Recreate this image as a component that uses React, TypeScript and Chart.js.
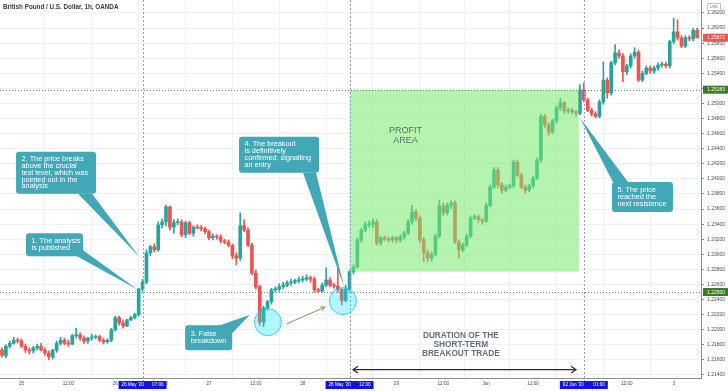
import React, { useEffect, useRef } from 'react';
import { Chart, registerables } from 'chart.js';
Chart.register(...registerables);

const FONT = '"Liberation Sans", Arial, sans-serif';
const UP = '#26a69a';
const DOWN = '#ef5350';

const opens = [
  1.2173, 1.2166, 1.2178, 1.2182, 1.2186, 1.2185, 1.2178, 1.2173, 1.2172, 1.2176,
  1.2178, 1.2173, 1.2169, 1.2164, 1.2173, 1.2182, 1.2186, 1.2182, 1.2181, 1.2192,
  1.2193, 1.2189, 1.2185, 1.2189, 1.2190, 1.2191, 1.2186, 1.2184, 1.2186, 1.2200,
  1.2216, 1.2209, 1.2205, 1.2213, 1.2216, 1.2220, 1.2254, 1.2263, 1.2302, 1.2310,
  1.2306, 1.2339, 1.2343, 1.2363, 1.2336, 1.2342, 1.2343, 1.2326, 1.2342, 1.2328,
  1.2336, 1.2335, 1.2334, 1.2330, 1.2322, 1.2324, 1.2323, 1.2318, 1.2316, 1.2312,
  1.2298, 1.2295, 1.2338, 1.2332, 1.2312, 1.2275, 1.2257, 1.2210, 1.2229, 1.2237,
  1.2253, 1.2254, 1.2257, 1.2259, 1.2262, 1.2263, 1.2265, 1.2266, 1.2267, 1.2269,
  1.2267, 1.2253, 1.2251, 1.2259, 1.2266, 1.2259, 1.2258, 1.2253, 1.2239, 1.2254,
  1.2277, 1.2283, 1.2319, 1.2332, 1.2339, 1.2340, 1.2343, 1.2315, 1.2322, 1.2320,
  1.2319, 1.2322, 1.2319, 1.2323, 1.2328, 1.2343, 1.2356, 1.2348, 1.2319, 1.2302,
  1.2295, 1.2300, 1.2324, 1.2364, 1.2355, 1.2365, 1.2368, 1.2316, 1.2306, 1.2312,
  1.2324, 1.2348, 1.2350, 1.2346, 1.2344, 1.2365, 1.2389, 1.2412, 1.2392, 1.2385,
  1.2389, 1.2391, 1.2422, 1.2405, 1.2389, 1.2385, 1.2391, 1.2401, 1.2425, 1.2483,
  1.2472, 1.2462, 1.2477, 1.2494, 1.2501, 1.2490, 1.2491, 1.2489, 1.2487, 1.2518,
  1.2505, 1.2491, 1.2486, 1.2483, 1.2502, 1.2531, 1.2514, 1.2554, 1.2567, 1.2563,
  1.2542, 1.2550, 1.2563, 1.2568, 1.2531, 1.2540, 1.2547, 1.2543, 1.2547, 1.2551,
  1.2552, 1.2550, 1.2582, 1.2595, 1.2587, 1.2576, 1.2587, 1.2586, 1.2597,
];

const highs = [
  1.2176, 1.2180, 1.2185, 1.2190, 1.2189, 1.2188, 1.2181, 1.2176, 1.2178, 1.2181,
  1.2182, 1.2176, 1.2172, 1.2174, 1.2185, 1.2190, 1.2189, 1.2186, 1.2194, 1.2202,
  1.2196, 1.2192, 1.2190, 1.2194, 1.2193, 1.2193, 1.2189, 1.2188, 1.2202, 1.2218,
  1.2218, 1.2213, 1.2214, 1.2218, 1.2222, 1.2255, 1.2267, 1.2306, 1.2312, 1.2314,
  1.2343, 1.2347, 1.2365, 1.2364, 1.2346, 1.2347, 1.2346, 1.2344, 1.2344, 1.2338,
  1.2339, 1.2338, 1.2336, 1.2332, 1.2327, 1.2326, 1.2326, 1.2320, 1.2319, 1.2314,
  1.2302, 1.2355, 1.2346, 1.2335, 1.2315, 1.2279, 1.2259, 1.2231, 1.2239, 1.2255,
  1.2257, 1.2261, 1.2263, 1.2265, 1.2267, 1.2267, 1.2270, 1.2271, 1.2273, 1.2271,
  1.2270, 1.2255, 1.2262, 1.2282, 1.2269, 1.2262, 1.2282, 1.2255, 1.2259, 1.2279,
  1.2286, 1.2322, 1.2335, 1.2343, 1.2344, 1.2347, 1.2346, 1.2324, 1.2324, 1.2323,
  1.2324, 1.2324, 1.2326, 1.2331, 1.2346, 1.2365, 1.2359, 1.2351, 1.2322, 1.2306,
  1.2303, 1.2327, 1.2372, 1.2368, 1.2368, 1.2371, 1.2371, 1.2319, 1.2315, 1.2327,
  1.2351, 1.2353, 1.2352, 1.2348, 1.2368, 1.2392, 1.2415, 1.2415, 1.2395, 1.2392,
  1.2393, 1.2425, 1.2425, 1.2408, 1.2392, 1.2393, 1.2404, 1.2428, 1.2486, 1.2486,
  1.2474, 1.2479, 1.2497, 1.2507, 1.2503, 1.2494, 1.2494, 1.2491, 1.2525, 1.2527,
  1.2507, 1.2494, 1.2489, 1.2505, 1.2555, 1.2534, 1.2556, 1.2578, 1.2571, 1.2566,
  1.2552, 1.2566, 1.2574, 1.2571, 1.2543, 1.2550, 1.2550, 1.2550, 1.2554, 1.2555,
  1.2555, 1.2584, 1.2613, 1.2611, 1.2590, 1.2590, 1.2590, 1.2600, 1.2600,
];

const lows = [
  1.2164, 1.2163, 1.2176, 1.2181, 1.2182, 1.2176, 1.2170, 1.2168, 1.2169, 1.2173,
  1.2172, 1.2166, 1.2160, 1.2161, 1.2170, 1.2180, 1.2180, 1.2178, 1.2180, 1.2189,
  1.2186, 1.2182, 1.2182, 1.2186, 1.2188, 1.2184, 1.2181, 1.2182, 1.2184, 1.2198,
  1.2206, 1.2202, 1.2204, 1.2212, 1.2214, 1.2218, 1.2251, 1.2261, 1.2298, 1.2303,
  1.2304, 1.2335, 1.2338, 1.2332, 1.2328, 1.2339, 1.2323, 1.2322, 1.2326, 1.2324,
  1.2334, 1.2331, 1.2327, 1.2319, 1.2319, 1.2320, 1.2315, 1.2314, 1.2310, 1.2294,
  1.2286, 1.2292, 1.2330, 1.2310, 1.2273, 1.2254, 1.2206, 1.2204, 1.2226, 1.2234,
  1.2250, 1.2251, 1.2254, 1.2257, 1.2259, 1.2261, 1.2262, 1.2263, 1.2265, 1.2263,
  1.2250, 1.2249, 1.2250, 1.2257, 1.2257, 1.2255, 1.2250, 1.2233, 1.2237, 1.2251,
  1.2274, 1.2282, 1.2316, 1.2330, 1.2336, 1.2335, 1.2312, 1.2312, 1.2318, 1.2316,
  1.2316, 1.2315, 1.2316, 1.2320, 1.2326, 1.2340, 1.2344, 1.2315, 1.2290, 1.2290,
  1.2291, 1.2298, 1.2322, 1.2351, 1.2352, 1.2361, 1.2314, 1.2295, 1.2303, 1.2310,
  1.2322, 1.2346, 1.2342, 1.2340, 1.2342, 1.2363, 1.2387, 1.2388, 1.2381, 1.2383,
  1.2387, 1.2388, 1.2403, 1.2387, 1.2381, 1.2383, 1.2388, 1.2399, 1.2422, 1.2468,
  1.2458, 1.2460, 1.2474, 1.2491, 1.2487, 1.2487, 1.2486, 1.2483, 1.2485, 1.2502,
  1.2489, 1.2483, 1.2481, 1.2481, 1.2499, 1.2507, 1.2511, 1.2551, 1.2560, 1.2529,
  1.2538, 1.2547, 1.2560, 1.2529, 1.2529, 1.2538, 1.2540, 1.2540, 1.2544, 1.2548,
  1.2547, 1.2547, 1.2579, 1.2584, 1.2574, 1.2574, 1.2583, 1.2583, 1.2587,
];

const closes = [
  1.2166, 1.2178, 1.2182, 1.2186, 1.2185, 1.2178, 1.2173, 1.2172, 1.2176, 1.2178,
  1.2173, 1.2169, 1.2164, 1.2173, 1.2182, 1.2186, 1.2182, 1.2181, 1.2192, 1.2193,
  1.2189, 1.2185, 1.2189, 1.2190, 1.2191, 1.2186, 1.2184, 1.2186, 1.2200, 1.2216,
  1.2209, 1.2205, 1.2213, 1.2216, 1.2220, 1.2254, 1.2263, 1.2302, 1.2310, 1.2306,
  1.2339, 1.2343, 1.2363, 1.2336, 1.2342, 1.2343, 1.2326, 1.2342, 1.2328, 1.2336,
  1.2335, 1.2334, 1.2330, 1.2322, 1.2324, 1.2323, 1.2318, 1.2316, 1.2312, 1.2298,
  1.2295, 1.2338, 1.2332, 1.2312, 1.2275, 1.2257, 1.2210, 1.2229, 1.2237, 1.2253,
  1.2254, 1.2257, 1.2259, 1.2262, 1.2263, 1.2265, 1.2266, 1.2267, 1.2269, 1.2267,
  1.2253, 1.2251, 1.2259, 1.2266, 1.2259, 1.2258, 1.2253, 1.2239, 1.2254, 1.2277,
  1.2283, 1.2319, 1.2332, 1.2339, 1.2340, 1.2343, 1.2315, 1.2322, 1.2320, 1.2319,
  1.2322, 1.2319, 1.2323, 1.2328, 1.2343, 1.2356, 1.2348, 1.2319, 1.2302, 1.2295,
  1.2300, 1.2324, 1.2364, 1.2355, 1.2365, 1.2368, 1.2316, 1.2306, 1.2312, 1.2324,
  1.2348, 1.2350, 1.2346, 1.2344, 1.2365, 1.2389, 1.2412, 1.2392, 1.2385, 1.2389,
  1.2391, 1.2422, 1.2405, 1.2389, 1.2385, 1.2391, 1.2401, 1.2425, 1.2483, 1.2472,
  1.2462, 1.2477, 1.2494, 1.2501, 1.2490, 1.2491, 1.2489, 1.2487, 1.2518, 1.2505,
  1.2491, 1.2486, 1.2483, 1.2502, 1.2531, 1.2514, 1.2554, 1.2567, 1.2563, 1.2542,
  1.2550, 1.2563, 1.2568, 1.2531, 1.2540, 1.2547, 1.2543, 1.2547, 1.2551, 1.2552,
  1.2550, 1.2582, 1.2595, 1.2587, 1.2576, 1.2587, 1.2586, 1.2597, 1.2587,
];

const xTickIndex = [5, 17, 29, 41, 53, 65, 77, 89, 101, 113, 124, 136, 148, 160, 172];
const xTickLabels = ['25', '12:00', '26', '12:00', '27', '12:00', '28', '12:00', '29', '12:00', 'Jun', '12:00', '2', '12:00', '3'];
const priceTicks = [
  1.214, 1.216, 1.218, 1.22, 1.222, 1.224, 1.226, 1.228, 1.23, 1.232, 1.234, 1.236, 1.238,
  1.24, 1.242, 1.244, 1.246, 1.248, 1.25, 1.252, 1.254, 1.256, 1.258, 1.26, 1.262,
];

const levelPrices = [1.25183, 1.225];
const levelLabels = ['1.25183', '1.22500'];
const lastPrice = 1.25872;
const lastPriceLabel = '1.25872';
const markerIndex = [36, 89, 149];
const markerDates = ["26 May '20", "28 May '20", "02 Jun '20"];
const markerTimes = ['07:00', '12:00', '01:00'];
const profitIndex = [89, 147.7];
const profitPrice = [1.2277, 1.25183];
const circleIndex = [68.1, 87.3];
const circlePrice = [1.221, 1.2238];
const arrowIndex = [73.0, 82.7];
const arrowPrice = [1.2208, 1.223];
const durationIndex = [89.9, 147.0];
const durationPrice = 1.2147;
const profitLines = ['PROFIT', 'AREA'];
const profitTextIndex = 103.3;
const profitTextPrice = [1.2464, 1.2451];
const durationLines = ['DURATION OF THE', 'SHORT-TERM', 'BREAKOUT TRADE'];
const durationTextIndex = 117.5;
const durationTextPrice = [1.2192, 1.218, 1.2168];

const calloutTexts = [
  ['1. The analysis', 'is published'],
  ['2. The price breaks', 'above the crucial', 'test level, which was', 'pointed out in the', 'analysis'],
  ['3. False', 'breakdown'],
  ['4. The breakout', 'is definitively', 'confirmed, signalling', 'an entry'],
  ['5. The price', 'reached the', 'next resistence'],
];
const calloutBoxIndex = [6.15, 3.6, 46.9, 60.7, 156.2];
const calloutBoxPrice = [1.2328, 1.2436, 1.2206, 1.2456, 1.2396];
const calloutTipIndex = [34.8, 35.1, 63.5, 87.6, 148.0];
const calloutTipPrice = [1.2253, 1.2297, 1.222, 1.2257, 1.2481];

// styling for callouts (px)
const calloutSize = [[57, 23], [80, 42], [47, 25], [80, 36], [61, 30]];
const calloutBase = [
  [[57, 17], [51, 23]],
  [[62, 42], [76, 42]],
  [[35, 0], [47, 8]],
  [[64, 36], [77, 36]],
  [[1, 0], [16, 0]],
];

function rr(ctx: CanvasRenderingContext2D, x: number, y: number, w: number, h: number, r: number) {
  ctx.beginPath();
  ctx.moveTo(x + r, y);
  ctx.arcTo(x + w, y, x + w, y + h, r);
  ctx.arcTo(x + w, y + h, x, y + h, r);
  ctx.arcTo(x, y + h, x, y, r);
  ctx.arcTo(x, y, x + w, y, r);
  ctx.closePath();
}

function seg(ctx: CanvasRenderingContext2D, x1: number, y1: number, x2: number, y2: number) {
  ctx.beginPath();
  ctx.moveTo(x1, y1);
  ctx.lineTo(x2, y2);
  ctx.stroke();
}

function head(ctx: CanvasRenderingContext2D, x1: number, y1: number, x2: number, y2: number, len: number, spread: number) {
  const t = Math.atan2(y2 - y1, x2 - x1);
  ctx.beginPath();
  ctx.moveTo(x2 - len * Math.cos(t - spread), y2 - len * Math.sin(t - spread));
  ctx.lineTo(x2, y2);
  ctx.lineTo(x2 - len * Math.cos(t + spread), y2 - len * Math.sin(t + spread));
  ctx.stroke();
}

const overlayPlugin = {
  id: 'overlay',
  afterDatasetsDraw(chart: any) {
    const { ctx, chartArea: a } = chart;
    const x = chart.scales.x;
    const y = chart.scales.y;
    ctx.save();

    // profit area
    const px0 = x.getPixelForValue(profitIndex[0]);
    const px1 = x.getPixelForValue(profitIndex[1]);
    const py0 = y.getPixelForValue(profitPrice[1]);
    const py1 = y.getPixelForValue(profitPrice[0]);
    ctx.fillStyle = 'rgba(120,235,110,0.55)';
    ctx.fillRect(px0, py0, px1 - px0, py1 - py0);

    // horizontal dotted levels
    ctx.lineWidth = 1;
    ctx.strokeStyle = 'rgba(105,125,85,0.95)';
    ctx.setLineDash([1, 2]);
    levelPrices.forEach((p) => {
      const yy = Math.round(y.getPixelForValue(p)) + 0.5;
      seg(ctx, a.left, yy, a.right, yy);
    });

    // vertical dashed markers
    ctx.strokeStyle = '#9b9bdb';
    ctx.setLineDash([2, 2]);
    markerIndex.forEach((i) => {
      const xx = Math.round(x.getPixelForValue(i)) + 0.5;
      seg(ctx, xx, a.top, xx, a.bottom + 3);
    });
    ctx.setLineDash([]);

    // circles
    circleIndex.forEach((ci, k) => {
      const cx = x.getPixelForValue(ci);
      const cy = y.getPixelForValue(circlePrice[k]);
      ctx.beginPath();
      ctx.arc(cx, cy, 13.5, 0, Math.PI * 2);
      ctx.fillStyle = 'rgba(0,225,255,0.3)';
      ctx.fill();
      ctx.strokeStyle = 'rgba(0,195,225,0.7)';
      ctx.lineWidth = 1;
      ctx.stroke();
    });

    // green arrow
    {
      const ax1 = x.getPixelForValue(arrowIndex[0]);
      const ay1 = y.getPixelForValue(arrowPrice[0]);
      const ax2 = x.getPixelForValue(arrowIndex[1]);
      const ay2 = y.getPixelForValue(arrowPrice[1]);
      ctx.strokeStyle = '#6f9f5f';
      ctx.lineWidth = 1;
      seg(ctx, ax1, ay1, ax2, ay2);
      head(ctx, ax1, ay1, ax2, ay2, 5, 0.45);
    }

    // duration double arrow
    {
      const dx1 = x.getPixelForValue(durationIndex[0]);
      const dx2 = x.getPixelForValue(durationIndex[1]);
      const dy = y.getPixelForValue(durationPrice);
      ctx.strokeStyle = '#2a2a2a';
      ctx.lineWidth = 1.2;
      seg(ctx, dx1, dy, dx2, dy);
      head(ctx, dx2, dy, dx1, dy, 6, 0.6);
      head(ctx, dx1, dy, dx2, dy, 6, 0.6);
    }

    // callouts
    calloutTexts.forEach((lines, k) => {
      const bx = x.getPixelForValue(calloutBoxIndex[k]);
      const by = y.getPixelForValue(calloutBoxPrice[k]);
      const tx = x.getPixelForValue(calloutTipIndex[k]);
      const ty = y.getPixelForValue(calloutTipPrice[k]);
      const [w, h] = calloutSize[k];
      const [b1, b2] = calloutBase[k];
      ctx.fillStyle = '#42a7b7';
      ctx.beginPath();
      ctx.moveTo(bx + b1[0], by + b1[1]);
      ctx.lineTo(tx, ty);
      ctx.lineTo(bx + b2[0], by + b2[1]);
      ctx.closePath();
      ctx.fill();
      rr(ctx, bx, by, w, h, 3);
      ctx.fill();
      ctx.fillStyle = '#ffffff';
      ctx.font = `7.3px ${FONT}`;
      ctx.textAlign = 'left';
      ctx.textBaseline = 'middle';
      const step = 6.8;
      const first = by + (h - (lines.length - 1) * step) / 2;
      lines.forEach((t, j) => ctx.fillText(t, bx + 5.5, first + j * step));
    });

    // texts
    ctx.textAlign = 'center';
    ctx.textBaseline = 'middle';
    ctx.fillStyle = '#5a6c70';
    ctx.font = `9px ${FONT}`;
    profitLines.forEach((t, j) => {
      ctx.fillText(t, x.getPixelForValue(profitTextIndex), y.getPixelForValue(profitTextPrice[j]));
    });
    ctx.fillStyle = '#66707e';
    ctx.font = `bold 8.3px ${FONT}`;
    durationLines.forEach((t, j) => {
      ctx.fillText(t, x.getPixelForValue(durationTextIndex), y.getPixelForValue(durationTextPrice[j]));
    });
    ctx.restore();
  },
  afterDraw(chart: any) {
    const { ctx, chartArea: a } = chart;
    const x = chart.scales.x;
    const y = chart.scales.y;
    ctx.save();
    ctx.textBaseline = 'middle';

    // price labels on axis
    const boxes = [
      { p: lastPrice, t: lastPriceLabel, c: DOWN },
      { p: levelPrices[0], t: levelLabels[0], c: '#3b7b28' },
      { p: levelPrices[1], t: levelLabels[1], c: '#3b7b28' },
    ];
    boxes.forEach((b) => {
      const yy = y.getPixelForValue(b.p);
      ctx.fillStyle = b.c;
      ctx.fillRect(a.right + 2, yy - 4, 26, 8);
      ctx.fillStyle = '#ffffff';
      ctx.font = `5px ${FONT}`;
      ctx.textAlign = 'left';
      ctx.fillText(b.t, a.right + 6, yy + 0.3);
    });

    // date markers on x axis
    markerIndex.forEach((i, k) => {
      const xx = x.getPixelForValue(i);
      ctx.fillStyle = '#1212e6';
      ctx.fillRect(xx - 24, a.bottom + 3, 48, 8);
      ctx.fillStyle = '#ffffff';
      ctx.font = `4.6px ${FONT}`;
      ctx.textAlign = 'left';
      ctx.fillText(markerDates[k], xx - 21, a.bottom + 7.2);
      ctx.textAlign = 'right';
      ctx.fillText(markerTimes[k], xx + 21, a.bottom + 7.2);
    });

    // title
    ctx.fillStyle = '#3a3a3a';
    ctx.font = `bold 6.3px ${FONT}`;
    ctx.textAlign = 'left';
    ctx.fillText('British Pound / U.S. Dollar, 1h, OANDA', 3, 7.5);

    // currency tag
    ctx.strokeStyle = '#c4c4c4';
    ctx.lineWidth = 1;
    ctx.strokeRect(707.5, 3.5, 13, 7);
    ctx.fillStyle = '#777';
    ctx.font = `4px ${FONT}`;
    ctx.textAlign = 'center';
    ctx.fillText('USD', 714, 7.3);
    ctx.restore();
  },
};

export default function App() {
  const ref = useRef<HTMLCanvasElement | null>(null);
  useEffect(() => {
    if (!ref.current) return;
    const colors = opens.map((o, i) => (closes[i] >= o ? UP : DOWN));
    const chart = new Chart(ref.current, {
      type: 'bar',
      data: {
        datasets: [
          {
            data: opens.map((_, i) => ({ x: i, y: [lows[i], highs[i]] })) as any,
            backgroundColor: colors,
            barThickness: 1,
            grouped: false,
            order: 2,
          } as any,
          {
            data: opens.map((o, i) => ({ x: i, y: [o, closes[i]] })) as any,
            backgroundColor: colors,
            barThickness: 3,
            minBarLength: 1,
            grouped: false,
            order: 1,
          } as any,
        ],
      },
      options: {
        responsive: false,
        animation: false,
        layout: { padding: 0 },
        plugins: { legend: { display: false }, tooltip: { enabled: false } },
        scales: {
          x: {
            type: 'linear',
            min: -0.51,
            max: 179,
            offset: false,
            afterBuildTicks: (s: any) => {
              s.ticks = xTickIndex.map((v) => ({ value: v }));
            },
            afterFit: (s: any) => {
              s.height = 13;
              s.paddingLeft = 0;
              s.paddingRight = 0;
            },
            ticks: {
              autoSkip: false,
              maxRotation: 0,
              padding: 3,
              color: '#4a4e58',
              font: { size: 4.6, family: FONT },
              callback: (v: any) => {
                const k = xTickIndex.indexOf(Number(v));
                return k >= 0 ? xTickLabels[k] : '';
              },
            },
            grid: { color: '#eef1f7', drawTicks: false },
            border: { color: '#8c8f96' },
          },
          y: {
            type: 'linear',
            position: 'right',
            min: 1.2136,
            max: 1.26372,
            afterBuildTicks: (s: any) => {
              s.ticks = priceTicks.map((v) => ({ value: v }));
            },
            afterFit: (s: any) => {
              s.width = 27;
              s.paddingTop = 0;
              s.paddingBottom = 0;
            },
            ticks: {
              padding: 3,
              color: '#4a4e58',
              font: { size: 5, family: FONT },
              callback: (v: any) => Number(v).toFixed(5),
            },
            grid: { color: '#eef1f7', tickLength: 3, tickColor: '#8c8f96' },
            border: { color: '#8c8f96' },
          },
        },
      } as any,
      plugins: [overlayPlugin],
    });
    return () => chart.destroy();
  }, []);
  return (
    <div style={{ position: 'absolute', left: 0, top: 0, width: 728, height: 391, background: '#fff' }}>
      <canvas ref={ref} width={728} height={391} />
    </div>
  );
}
